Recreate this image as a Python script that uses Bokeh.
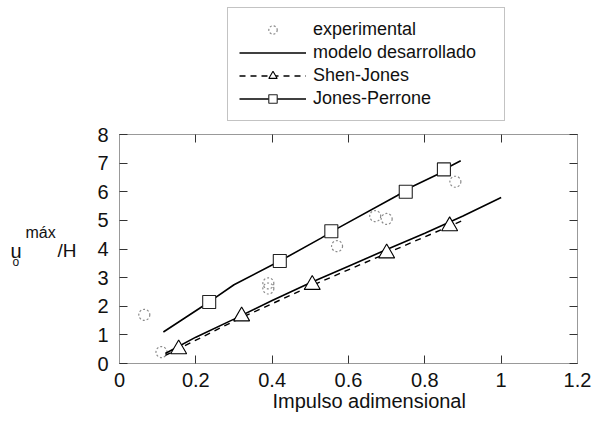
from bokeh.plotting import figure
from bokeh.models import Range1d, LinearAxis, Legend, LegendItem, Label, FixedTicker, Title
from bokeh.layouts import column, row
from bokeh.embed import file_html
from bokeh.resources import INLINE

# ---- data ----
exp_x = [0.065, 0.11, 0.39, 0.39, 0.57, 0.67, 0.70, 0.88]
exp_y = [1.70, 0.40, 2.62, 2.80, 4.10, 5.15, 5.05, 6.35]

model_x = [0.12, 0.2, 0.3, 0.4, 0.5, 0.6, 0.7, 0.8, 0.9, 1.0]
model_y = [0.35, 0.92, 1.55, 2.20, 2.82, 3.40, 3.98, 4.55, 5.15, 5.80]

sj_line_x = [0.12, 0.3, 0.5, 0.7, 0.9]
sj_line_y = [0.28, 1.48, 2.70, 3.85, 5.00]
sj_x = [0.155, 0.32, 0.505, 0.70, 0.865]
sj_y = [0.50, 1.65, 2.75, 3.85, 4.80]

jp_line_x = [0.115, 0.235, 0.30, 0.42, 0.527, 0.571, 0.728, 0.762, 0.833, 0.85, 0.894]
jp_line_y = [1.10, 2.15, 2.75, 3.58, 4.37, 4.72, 5.87, 6.15, 6.60, 6.78, 7.08]
jp_x = [0.235, 0.42, 0.555, 0.75, 0.85]
jp_y = [2.15, 3.58, 4.62, 6.00, 6.78]

x_ticks = [0, 0.2, 0.4, 0.6, 0.8, 1.0, 1.2]
x_tick_labels = ["0", "0.2", "0.4", "0.6", "0.8", "1", "1.2"]
y_ticks = [0, 1, 2, 3, 4, 5, 6, 7, 8]
legend_labels = ["experimental", "modelo desarrollado", "Shen-Jones", "Jones-Perrone"]
x_title = "Impulso adimensional"

FONT = "Liberation Sans"

# styles
EXP = dict(marker="circle", size=11, fill_color=None, line_color="#8a8a8a", line_dash="2 2", line_width=1.2)
MODEL = dict(line_color="black", line_width=1.6)
SJL = dict(line_color="black", line_width=1.4, line_dash="6 5")
SJM = dict(marker="triangle", size=16, fill_color="white", line_color="black", line_width=1.1)
JPL = dict(line_color="black", line_width=1.6)
JPM = dict(marker="square", size=13, fill_color="white", line_color="#222222", line_width=1.1)

def bare(w, h, xr=(0, 1), yr=(0, 1)):
    f = figure(width=w, height=h, x_range=Range1d(*xr), y_range=Range1d(*yr),
               x_axis_type=None, y_axis_type=None, output_backend="svg",
               toolbar_location=None, min_border=0)
    f.outline_line_color = None
    f.xgrid.visible = False
    f.ygrid.visible = False
    return f

TOP_H = 122
MAIN_H = 426 - TOP_H

# ---------------- legend panel (proxy renderers lie outside its visible range) ----------------
lf = bare(592, TOP_H, xr=(100, 101), yr=(100, 101))
l_exp = lf.scatter(exp_x, exp_y, **EXP)
l_model = lf.line(model_x, model_y, **MODEL)
l_sjl = lf.line(sj_line_x, sj_line_y, **SJL)
l_sjm = lf.scatter(sj_x, sj_y, **SJM)
l_jpl = lf.line(jp_line_x, jp_line_y, **JPL)
l_jpm = lf.scatter(jp_x, jp_y, **JPM)
legend = Legend(items=[
    LegendItem(label=legend_labels[0], renderers=[l_exp]),
    LegendItem(label=legend_labels[1], renderers=[l_model]),
    LegendItem(label=legend_labels[2], renderers=[l_sjl, l_sjm]),
    LegendItem(label=legend_labels[3], renderers=[l_jpl, l_jpm]),
], location=(227, 1))
legend.label_text_font = FONT
legend.label_text_font_size = "18px"
legend.label_text_color = "#111111"
legend.label_height = 21
legend.glyph_height = 21
legend.glyph_width = 67
legend.label_standoff = 7
legend.label_width = 180
legend.spacing = 2
legend.padding = 11
legend.margin = 0
legend.border_line_color = "#888888"
legend.border_line_width = 1
legend.background_fill_color = "white"
legend.background_fill_alpha = 1
lf.add_layout(legend, "center")

# ---------------- y-axis title panel ----------------
yf = bare(85, MAIN_H)
def lab(text, x, y, size):
    yf.add_layout(Label(x=x, y=y, x_units="screen", y_units="screen", text=text,
                        text_font=FONT, text_font_size=size, text_color="#111111",
                        text_align="left", text_baseline="alphabetic"))
lab("u", 10, 113, "20px")
lab("o", 12, 102, "12px")
lab("máx", 25, 131, "16px")
lab("/H", 57, 113, "19px")

# ---------------- main plot ----------------
p = figure(width=507, height=MAIN_H, x_range=Range1d(0, 1.2), y_range=Range1d(0, 8),
           output_backend="svg", toolbar_location=None,
           min_border_left=34, min_border_right=15, min_border_top=134 - TOP_H, min_border_bottom=63)
p.xgrid.visible = False
p.ygrid.visible = False
p.outline_line_color = "#999999"

def style_axis(ax, ticks, labels=True):
    ax.ticker = FixedTicker(ticks=ticks)
    ax.minor_tick_line_color = None
    ax.major_tick_in = 8
    ax.major_tick_out = 0
    ax.major_tick_line_color = "#333333"
    ax.axis_line_color = "#999999"
    if labels:
        ax.major_label_text_font = FONT
        ax.major_label_text_font_size = "20px"
        ax.major_label_text_color = "#111111"
    else:
        ax.major_label_overrides = {t: "" for t in ticks}
        ax.major_label_text_font_size = "1px"
        ax.major_label_standoff = 0

xa = p.xaxis[0]
style_axis(xa, x_ticks)
xa.major_label_standoff = 9
xa.major_label_overrides = dict(zip(x_ticks, x_tick_labels))

style_axis(p.yaxis[0], y_ticks)
p.yaxis[0].major_label_standoff = 11

top = LinearAxis()
style_axis(top, x_ticks, labels=False)
p.add_layout(top, "above")
right = LinearAxis()
style_axis(right, y_ticks, labels=False)
p.add_layout(right, "right")

xt = Title(text=x_title, align="left", offset=153, vertical_align="bottom", standoff=-3,
           text_font=FONT, text_font_size="20px", text_font_style="normal", text_color="#111111")
p.add_layout(xt, "below")

p.scatter(exp_x, exp_y, **EXP)
p.line(model_x, model_y, **MODEL)
p.line(sj_line_x, sj_line_y, **SJL)
p.scatter(sj_x, sj_y, **SJM)
p.line(jp_line_x, jp_line_y, **JPL)
p.scatter(jp_x, jp_y, **JPM)

layout = column(lf, row(yf, p, spacing=0), spacing=0)
open("out.html", "w").write(file_html(layout, INLINE))
